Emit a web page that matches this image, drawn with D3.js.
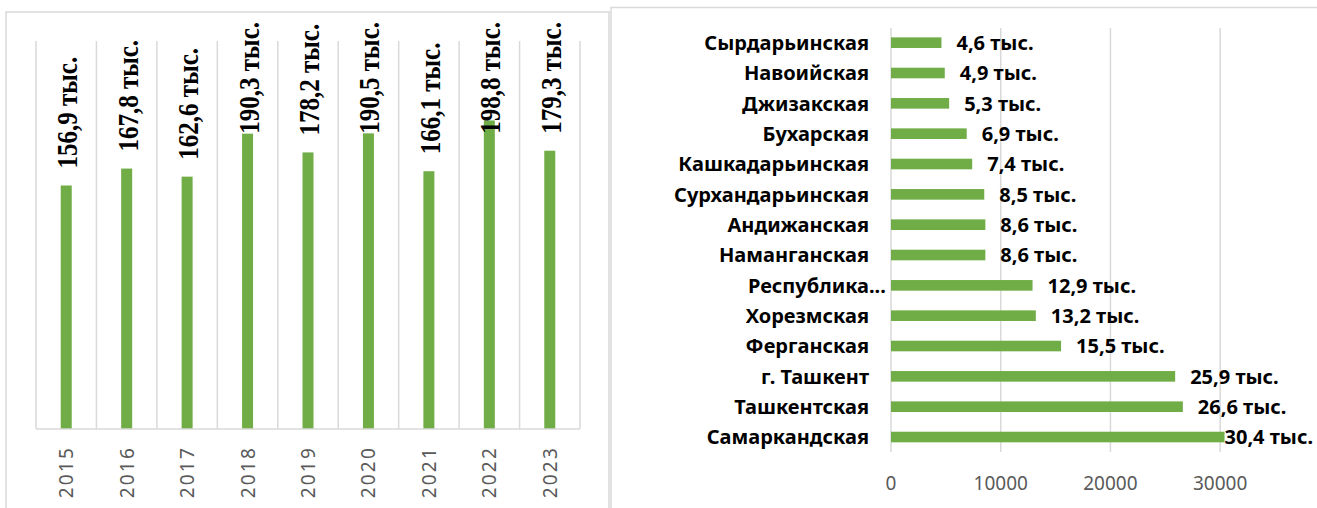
<!DOCTYPE html>
<html lang="ru">
<head>
    <meta charset="UTF-8">
    <title>Diagrams</title>
    <script src="https://d3js.org/d3.v7.min.js"></script>
    <style>
        body { margin: 0; background: #fff; }
    </style>
</head>
<body>
<script>
    // data: left chart (thousands per year)
    var years = ["2015", "2016", "2017", "2018", "2019", "2020", "2021", "2022", "2023"];
    var yearValues = [156.9, 167.8, 162.6, 190.3, 178.2, 190.5, 166.1, 198.8, 179.3];

    // data: right chart (by region)
    var regions = ["Сырдарьинская", "Навоийская", "Джизакская", "Бухарская", "Кашкадарьинская",
        "Сурхандарьинская", "Андижанская", "Наманганская", "Республика Каракалпакстан",
        "Хорезмская", "Ферганская", "г. Ташкент", "Ташкентская", "Самаркандская"];
    var regionValues = [4600, 4900, 5300, 6900, 7400, 8500, 8600, 8600, 12900, 13200, 15500, 25900, 26600, 30400];
    var regionTicks = [0, 10000, 20000, 30000];

    var green = "#70AD47", grid = "#d9d9d9", gray = "#595959";
    var fmt = function(v) { return v.toFixed(1).replace(".", ",") + " тыс."; };

    var svg = d3.select("body").append("svg")
        .attr("width", 1317)
        .attr("height", 508);

    // panel frames
    svg.append("rect").attr("x", 6).attr("y", 12).attr("width", 603).attr("height", 520)
        .attr("fill", "none").attr("stroke", grid).attr("stroke-width", 1.5);
    svg.append("rect").attr("x", 611).attr("y", 7.5).attr("width", 720).attr("height", 520)
        .attr("fill", "none").attr("stroke", grid).attr("stroke-width", 1.5);

    // ---------- left chart ----------
    var x1 = d3.scaleBand().domain(years).range([36, 580]).padding(0);
    var y1 = d3.scaleLinear().domain([0, 250]).range([429, 41]);
    var left = svg.append("g");

    // vertical gridlines at category boundaries
    var bounds = years.map(function(d) { return x1(d); }).concat([x1.range()[1]]);
    left.selectAll(".vgrid").data(bounds).enter().append("line")
        .attr("x1", d => d).attr("x2", d => d)
        .attr("y1", y1(250)).attr("y2", y1(0))
        .attr("stroke", grid).attr("stroke-width", 1.5);

    left.selectAll(".bar").data(years).enter().append("rect")
        .attr("x", (d) => x1(d) + x1.bandwidth() / 2 - 5.5)
        .attr("width", 11)
        .attr("y", (d, i) => y1(yearValues[i]))
        .attr("height", (d, i) => y1(0) - y1(yearValues[i]))
        .attr("fill", green);

    // axis line
    left.append("line").attr("x1", 36).attr("x2", 580).attr("y1", y1(0)).attr("y2", y1(0))
        .attr("stroke", grid).attr("stroke-width", 1.5);

    // year labels, rotated
    left.selectAll(".year").data(years).enter().append("text")
        .attr("transform", d => "translate(" + (x1(d) + x1.bandwidth() / 2 + 7) + ",446) rotate(-90)")
        .attr("text-anchor", "end")
        .style("font-family", "Noto Sans")
        .style("font-size", "19px")
        .style("letter-spacing", "2.2px")
        .attr("fill", gray)
        .text(d => d);

    // value labels, rotated; pushed down if they would leave the plot
    left.selectAll(".val").data(years).enter().append("text")
        .style("font-family", "Liberation Serif")
        .style("font-weight", "bold")
        .style("font-size", "25px")
        .attr("fill", "#000")
        .text((d, i) => fmt(yearValues[i]))
        .attr("transform", function(d, i) {
            var len = this.getComputedTextLength();
            var ys = Math.max(y1(yearValues[i]) - 17, 22 + len);
            return "translate(" + (x1(d) + x1.bandwidth() / 2 + 11) + "," + ys + ") rotate(-90) scale(1,1.15)";
        });

    // ---------- right chart ----------
    var y2 = d3.scaleBand().domain(regions).range([27.5, 452.2]).paddingInner(0.65).paddingOuter(0.325);
    var x2 = d3.scaleLinear().domain([0, 35000]).range([891, 1275]);
    var right = svg.append("g");

    right.selectAll(".hgrid").data(regionTicks).enter().append("line")
        .attr("x1", d => x2(d)).attr("x2", d => x2(d))
        .attr("y1", 28).attr("y2", 452)
        .attr("stroke", grid).attr("stroke-width", 1.5);

    right.selectAll(".tick").data(regionTicks).enter().append("text")
        .attr("x", d => x2(d)).attr("y", 483)
        .attr("dy", "0.35em")
        .attr("text-anchor", "middle")
        .style("font-family", "Noto Sans")
        .style("font-size", "19px")
        .attr("fill", gray)
        .text(d => d);

    right.selectAll(".hbar").data(regions).enter().append("rect")
        .attr("x", x2(0))
        .attr("y", d => y2(d))
        .attr("height", y2.bandwidth())
        .attr("width", (d, i) => x2(regionValues[i]) - x2(0))
        .attr("fill", green);

    // category labels (long names cut with an ellipsis)
    var labelX = 869;
    right.selectAll(".cat").data(regions).enter().append("text")
        .attr("x", labelX)
        .attr("y", d => y2(d) + y2.bandwidth() / 2)
        .attr("dy", "0.36em")
        .attr("text-anchor", "end")
        .style("font-family", "Noto Sans")
        .style("font-weight", "bold")
        .style("font-size", "20px")
        .attr("fill", "#000")
        .text(d => d)
        .each(function(d) {
            if (this.getComputedTextLength() > 200) {
                d3.select(this).text(d.split(" ")[0]);
                right.append("text")
                    .attr("x", labelX)
                    .attr("y", y2(d) + y2.bandwidth() / 2)
                    .attr("dy", "0.36em")
                    .style("font-family", "Noto Sans")
                    .style("font-weight", "bold")
                    .style("font-size", "20px")
                    .text("...");
            }
        });

    // value labels to the right of bars, kept inside the panel
    right.selectAll(".hval").data(regions).enter().append("text")
        .attr("y", d => y2(d) + y2.bandwidth() / 2)
        .attr("dy", "0.36em")
        .style("font-family", "Noto Sans")
        .style("font-weight", "bold")
        .style("font-size", "20px")
        .attr("fill", "#000")
        .text((d, i) => fmt(regionValues[i] / 1000))
        .attr("x", function(d, i) {
            var len = this.getComputedTextLength();
            return Math.min(x2(regionValues[i]) + 15, 1313 - len);
        });
</script>
</body>
</html>
